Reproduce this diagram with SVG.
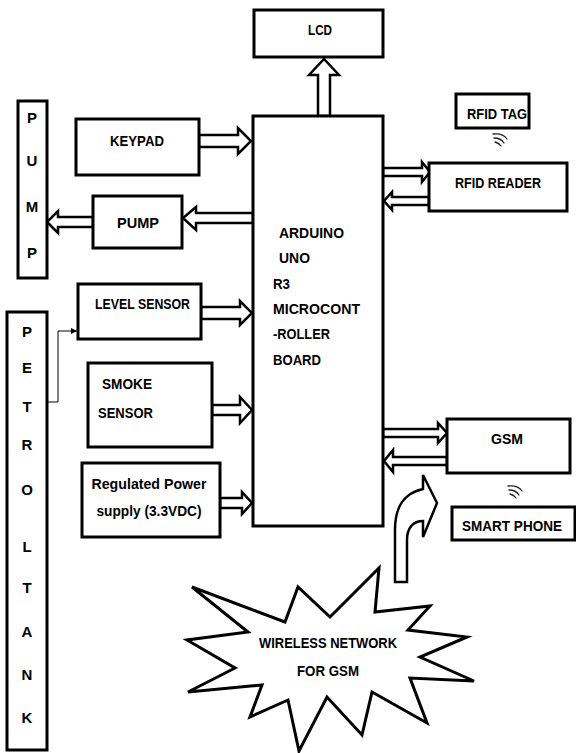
<svg xmlns="http://www.w3.org/2000/svg" width="576" height="753" viewBox="0 0 576 753">
<style>
.box{fill:#fff;stroke:#000;stroke-width:3}
.arr{fill:#fff;stroke:#000;stroke-width:2.5;stroke-linejoin:miter}
.t{font-family:"Liberation Sans",Arial,sans-serif;font-weight:bold;font-size:15.5px;fill:#000}
.c{font-size:15px}
.m{text-anchor:middle}
.wave{fill:none;stroke:#222;stroke-width:1.3;stroke-linecap:round}
.thin{fill:none;stroke:#000;stroke-width:1}
</style>
<defs>
<marker id="sm" viewBox="0 0 6 6" refX="6" refY="3" markerWidth="6" markerHeight="6" markerUnits="userSpaceOnUse" orient="auto"><path d="M0,0 L6,3 L0,6 Z" fill="#000"/></marker>
</defs>
<rect width="576" height="753" fill="#fff"/>

<g id="connectors">
<polygon class="arr" points="318,116 318,75 309,75 324,59 339,75 330,75 330,116"/>
<polygon class="arr" points="199,135 238,135 238,128 251,141 238,154 238,147 199,147"/>
<polygon class="arr" points="253,213 196,213 196,207 183,218 196,230 196,223 253,223"/>
<polygon class="arr" points="93,217 58,217 58,211 47,222 58,233 58,227 93,227"/>
<polygon class="arr" points="201,307 240,307 240,301 252,313 240,325 240,319 201,319"/>
<polygon class="arr" points="212,405 240,405 240,397 252,410 240,423 240,415 212,415"/>
<polygon class="arr" points="220,498 242,498 242,492 252,503 242,514 242,508 220,508"/>
<polygon class="arr" points="383,168 422,168 422,162 430,172 422,182 422,176 383,176"/>
<polygon class="arr" points="429,197 392,197 392,192 384,201 392,210 392,205 429,205"/>
<polygon class="arr" points="383,429 438,429 438,423 447,433 438,443 438,437 383,437"/>
<polygon class="arr" points="447,457 393,457 393,450 384,461 393,472 393,465 447,465"/>
<polyline class="thin" points="47,402 58,402 58,331 77,331" marker-end="url(#sm)"/>
<path class="arr" d="M395,582 L395,530 C395,505 405,493 423,489 L423,475 L437,503 L423,537 L423,521 C413,521 407,528 407,540 L407,582 Z"/>
<path class="wave" d="M493,134 Q503,133 507,139 M494,138 Q501,138 504,143 M495,142 Q499,143 501,146"/>
<path class="wave" d="M508,486 Q518,485 522,491 M509,490 Q516,490 519,495 M510,494 Q514,495 516,498"/>
</g>

<g id="lcd"><rect class="box" x="254" y="10" width="129" height="47"/><text class="t m" x="320" y="35" textLength="24" lengthAdjust="spacingAndGlyphs">LCD</text></g>

<g id="arduino"><rect class="box" x="253" y="116" width="130" height="410"/>
<text class="t" x="279" y="238" textLength="65" lengthAdjust="spacingAndGlyphs">ARDUINO</text>
<text class="t" x="279" y="263" textLength="31" lengthAdjust="spacingAndGlyphs">UNO</text>
<text class="t" x="273" y="289" textLength="17" lengthAdjust="spacingAndGlyphs">R3</text>
<text class="t" x="273" y="314" textLength="87" lengthAdjust="spacingAndGlyphs">MICROCONT</text>
<text class="t" x="273" y="339" textLength="57" lengthAdjust="spacingAndGlyphs">-ROLLER</text>
<text class="t" x="273" y="365" textLength="48" lengthAdjust="spacingAndGlyphs">BOARD</text>
</g>

<g id="pump-col"><rect class="box" x="18" y="101" width="29" height="177"/>
<text class="t c m" x="32" y="123">P</text><text class="t c m" x="32" y="166">U</text><text class="t c m" x="32" y="212">M</text><text class="t c m" x="32" y="258">P</text></g>

<g id="petrol-tank"><rect class="box" x="7" y="312" width="40" height="438"/>
<text class="t c m" x="27" y="337">P</text><text class="t c m" x="27" y="373">E</text><text class="t c m" x="27" y="412">T</text><text class="t c m" x="27" y="450">R</text><text class="t c m" x="27" y="495">O</text>
<text class="t c m" x="27" y="552">L</text><text class="t c m" x="27" y="593">T</text><text class="t c m" x="27" y="637">A</text><text class="t c m" x="27" y="680">N</text><text class="t c m" x="27" y="723">K</text></g>

<g id="keypad"><rect class="box" x="76" y="119" width="123" height="56"/><text class="t m" x="137" y="146" textLength="54" lengthAdjust="spacingAndGlyphs">KEYPAD</text></g>

<g id="pump"><rect class="box" x="93" y="196" width="89" height="52"/><text class="t m" x="138" y="228" textLength="42" lengthAdjust="spacingAndGlyphs">PUMP</text></g>

<g id="level-sensor"><rect class="box" x="78" y="284" width="123" height="55"/><text class="t" x="95" y="309" textLength="95" lengthAdjust="spacingAndGlyphs">LEVEL SENSOR</text></g>

<g id="smoke-sensor"><rect class="box" x="88" y="363" width="124" height="84"/>
<text class="t" x="102" y="389" textLength="50" lengthAdjust="spacingAndGlyphs">SMOKE</text>
<text class="t" x="98" y="418" textLength="55" lengthAdjust="spacingAndGlyphs">SENSOR</text></g>

<g id="power-supply"><rect class="box" x="82" y="463" width="138" height="74"/>
<text class="t m" x="149" y="489" textLength="115" lengthAdjust="spacingAndGlyphs">Regulated Power</text>
<text class="t m" x="149" y="516" textLength="105" lengthAdjust="spacingAndGlyphs">supply (3.3VDC)</text></g>

<g id="rfid-tag"><rect class="box" x="456" y="94" width="73" height="34"/><text class="t m" x="497" y="119" textLength="60" lengthAdjust="spacingAndGlyphs">RFID TAG</text></g>

<g id="rfid-reader"><rect class="box" x="429" y="163" width="138" height="48"/><text class="t m" x="498" y="188" textLength="86" lengthAdjust="spacingAndGlyphs">RFID READER</text></g>

<g id="gsm"><rect class="box" x="447" y="419" width="123" height="54"/><text class="t m" x="507" y="444" textLength="32" lengthAdjust="spacingAndGlyphs">GSM</text></g>

<g id="smart-phone"><rect class="box" x="452" y="507" width="123" height="33"/><text class="t m" x="512" y="531" textLength="100" lengthAdjust="spacingAndGlyphs">SMART PHONE</text></g>

<g id="wireless-network">
<polygon fill="#fff" stroke="#000" stroke-width="3" stroke-linejoin="miter" points="192,587 285,622 298,587 330,617 379,568 375,612 430,606 408,630 467,637 420,657 474,681 410,678 427,723 372,692 362,735 327,697 299,751 288,700 250,717 262,685 188,692 235,668 187,640 248,632"/>
<text class="t m" x="328" y="648" textLength="138" lengthAdjust="spacingAndGlyphs">WIRELESS NETWORK</text>
<text class="t m" x="328" y="676" textLength="62" lengthAdjust="spacingAndGlyphs">FOR GSM</text>
</g>
</svg>
